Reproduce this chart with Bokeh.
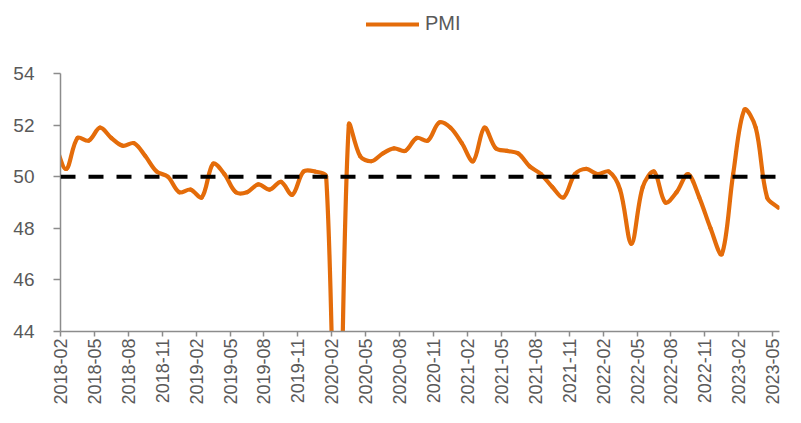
import numpy as np
from bokeh.plotting import figure
from bokeh.layouts import column
from bokeh.models import Range1d, FixedTicker, Span, Legend, LegendItem, ColumnDataSource
from bokeh.embed import file_html
from bokeh.resources import INLINE

# ---------------- data ----------------
months = [
    "2018-01", "2018-02", "2018-03", "2018-04", "2018-05", "2018-06", "2018-07", "2018-08", "2018-09", "2018-10", "2018-11", "2018-12",
    "2019-01", "2019-02", "2019-03", "2019-04", "2019-05", "2019-06", "2019-07", "2019-08", "2019-09", "2019-10", "2019-11", "2019-12",
    "2020-01", "2020-02", "2020-03", "2020-04", "2020-05", "2020-06", "2020-07", "2020-08", "2020-09", "2020-10", "2020-11", "2020-12",
    "2021-01", "2021-02", "2021-03", "2021-04", "2021-05", "2021-06", "2021-07", "2021-08", "2021-09", "2021-10", "2021-11", "2021-12",
    "2022-01", "2022-02", "2022-03", "2022-04", "2022-05", "2022-06", "2022-07", "2022-08", "2022-09", "2022-10", "2022-11", "2022-12",
    "2023-01", "2023-02", "2023-03", "2023-04", "2023-05",
]
pmi = [
    51.3, 50.3, 51.5, 51.4, 51.9, 51.5, 51.2, 51.3, 50.8, 50.2, 50.0, 49.4,
    49.5, 49.2, 50.5, 50.1, 49.4, 49.4, 49.7, 49.5, 49.8, 49.3, 50.2, 50.2,
    50.0, 35.7, 52.0, 50.8, 50.6, 50.9, 51.1, 51.0, 51.5, 51.4, 52.1, 51.9,
    51.3, 50.6, 51.9, 51.1, 51.0, 50.9, 50.4, 50.1, 49.6, 49.2, 50.1, 50.3,
    50.1, 50.2, 49.5, 47.4, 49.6, 50.2, 49.0, 49.4, 50.1, 49.2, 48.0, 47.0,
    50.1, 52.6, 51.9, 49.2, 48.8,
]
tick_labels = [
    "2018-02", "2018-05", "2018-08", "2018-11", "2019-02", "2019-05", "2019-08",
    "2019-11", "2020-02", "2020-05", "2020-08", "2020-11", "2021-02", "2021-05",
    "2021-08", "2021-11", "2022-02", "2022-05", "2022-08", "2022-11", "2023-02", "2023-05",
]
y_ticks = [44, 46, 48, 50, 52, 54]
threshold = 50
series_name = "PMI"

# ---------------- layout constants ----------------
W = 785
LEG_H = 40
H = 407 - LEG_H
BL, BR, BT, BB = 60, 6, 73 - LEG_H, 74
X0, X1 = 1.0, 64.6
Y0, Y1 = 44, 54
ORANGE = "#E46C0A"
GREY_TXT = "#595959"
GREY_AX = "#8C8C8C"
FONT = "Liberation Sans"

# month positions: tick at month index, value plotted mid-month
tick_x = [months.index(t) for t in tick_labels]
data_x = np.array([i + 0.5 for i in range(len(months))], dtype=float)
data_y = np.array(pmi, dtype=float)

# smoothed line (chord-weighted Catmull-Rom -> cubic Bezier), computed in pixel space
sx = (W - BL - BR) / (X1 - X0)
sy = (H - BT - BB) / (Y1 - Y0)
P = np.column_stack([data_x * sx, data_y * sy])
n = len(P)
seg = {k: [] for k in ["x0", "y0", "x1", "y1", "cx0", "cy0", "cx1", "cy1"]}
for i in range(n - 1):
    p0 = P[i - 1] if i > 0 else P[i]
    p1 = P[i]
    p2 = P[i + 1]
    p3 = P[i + 2] if i + 2 < n else P[i + 1]
    d01 = np.linalg.norm(p1 - p0)
    d12 = np.linalg.norm(p2 - p1)
    d23 = np.linalg.norm(p3 - p2)
    f1 = d12 / (d01 + d12) if (d01 + d12) > 0 else 0.5
    f2 = d12 / (d12 + d23) if (d12 + d23) > 0 else 0.5
    c0 = p1 + (p2 - p0) * f1 / 3.0
    c1 = p2 - (p3 - p1) * f2 / 3.0
    seg["x0"].append(p1[0] / sx); seg["y0"].append(p1[1] / sy)
    seg["x1"].append(p2[0] / sx); seg["y1"].append(p2[1] / sy)
    seg["cx0"].append(c0[0] / sx); seg["cy0"].append(c0[1] / sy)
    seg["cx1"].append(c1[0] / sx); seg["cy1"].append(c1[1] / sy)
src = ColumnDataSource(seg)

# ---------------- legend strip ----------------
leg = figure(width=W, height=LEG_H, output_backend="svg", toolbar_location=None,
             x_range=Range1d(0, 1), y_range=Range1d(0, 1),
             x_axis_location=None, y_axis_location=None,
             min_border_left=BL, min_border_right=BR, min_border_top=0, min_border_bottom=0,
             background_fill_color="white", border_fill_color="white")
leg.outline_line_color = None
leg.grid.visible = False
# proxy renderer for the legend entry (its data lies outside this strip's ranges)
leg_line = leg.line(data_x, data_y, line_color=ORANGE, line_width=4.2, line_cap="round")
legend = Legend(items=[LegendItem(label=series_name, renderers=[leg_line])],
                location=(306, 5), orientation="horizontal",
                glyph_width=53, glyph_height=20, label_height=20, label_standoff=6,
                label_text_font=FONT, label_text_font_size="20px", label_text_color=GREY_TXT,
                padding=0, margin=0, border_line_color=None, background_fill_alpha=0)
leg.add_layout(legend, "center")

# ---------------- main chart ----------------
p = figure(width=W, height=H, output_backend="svg", toolbar_location=None,
           x_range=Range1d(X0, X1), y_range=Range1d(Y0, Y1),
           min_border_left=BL, min_border_right=BR, min_border_top=BT, min_border_bottom=BB,
           background_fill_color="white", border_fill_color="white")
p.outline_line_color = None
p.grid.visible = False

p.add_layout(Span(location=threshold, dimension="width", line_color="black",
                  line_width=4, line_dash="15 13"))

p.bezier(x0="x0", y0="y0", x1="x1", y1="y1", cx0="cx0", cy0="cy0", cx1="cx1", cy1="cy1",
         source=src, line_color=ORANGE, line_width=4.2, line_cap="round")

xa = p.xaxis[0]
xa.ticker = FixedTicker(ticks=tick_x)
xa.major_label_overrides = {tx: lab for tx, lab in zip(tick_x, tick_labels)}
xa.major_label_orientation = np.pi / 2
xa.major_label_text_font = FONT
xa.major_label_text_font_size = "18px"
xa.major_label_text_color = GREY_TXT
xa.major_label_standoff = 2
xa.axis_line_color = GREY_AX
xa.axis_line_width = 1.5
xa.major_tick_line_color = GREY_AX
xa.major_tick_line_width = 1.5
xa.major_tick_in = 0
xa.major_tick_out = 5
xa.minor_tick_line_color = None

ya = p.yaxis[0]
ya.ticker = FixedTicker(ticks=y_ticks)
ya.major_label_text_font = FONT
ya.major_label_text_font_size = "19px"
ya.major_label_text_color = GREY_TXT
ya.major_label_standoff = 19
ya.axis_line_color = GREY_AX
ya.axis_line_width = 1.5
ya.major_tick_line_color = GREY_AX
ya.major_tick_line_width = 1.5
ya.major_tick_in = 0
ya.major_tick_out = 7
ya.minor_tick_line_color = None

layout = column(leg, p, spacing=0)
open("out.html", "w").write(file_html(layout, INLINE))
